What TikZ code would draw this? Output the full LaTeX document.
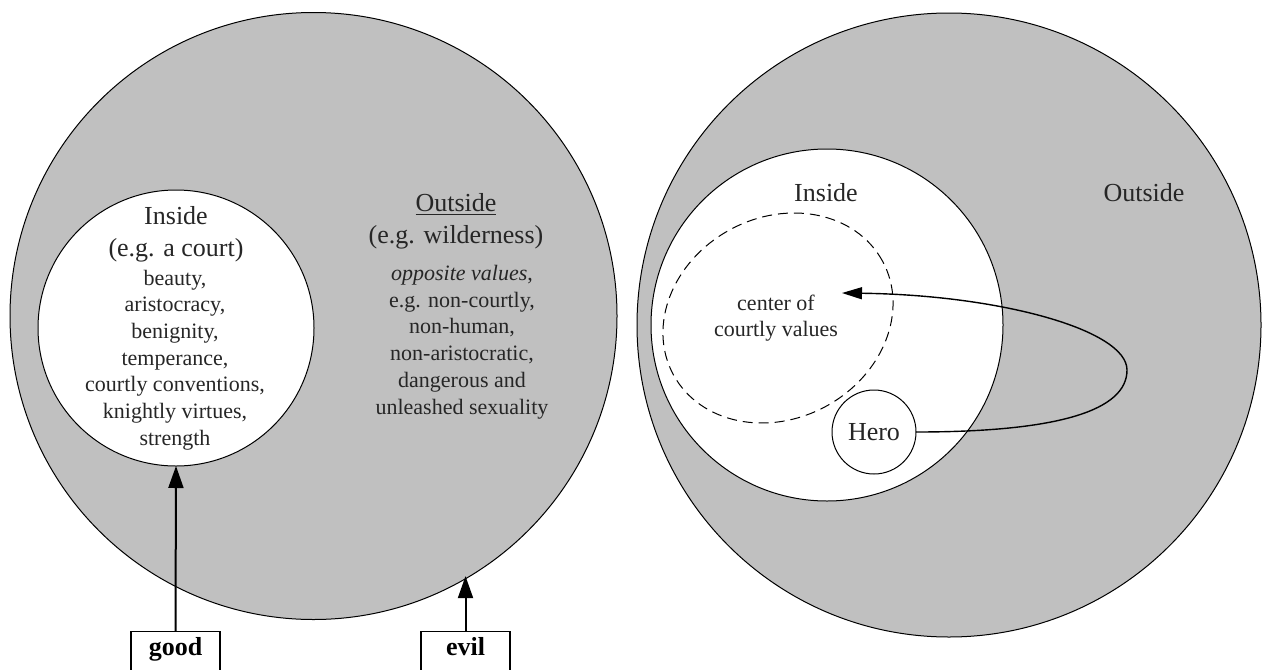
\documentclass[tikz,border=0pt]{standalone}
\usepackage{fontspec}
\setmainfont{Liberation Serif}
\usetikzlibrary{arrows.meta,shapes.geometric}
\definecolor{realm}{RGB}{192,192,192}
\begin{document}
\begin{tikzpicture}[x=0.5pt,y=-0.5pt,
  region/.style={circle, draw=black, line width=0.5pt, inner sep=0pt, outer sep=0pt},
  outerdisk/.style={region, fill=realm},
  innerdisk/.style={region, fill=white},
  hdtext/.style={font=\fontsize{13}{16}\selectfont, align=center, text=black!85},
  bodytext/.style={font=\fontsize{11}{13.35}\selectfont, align=center, text=black!85},
  tagbox/.style={draw, line width=0.6pt, fill=white, anchor=north, minimum width=44.5pt,
    inner ysep=3pt, text height=9pt, text depth=15pt, font=\fontsize{13}{15}\selectfont\bfseries},
  push/.style={-{Triangle[length=11pt,width=7.5pt]}, line width=1pt},
  orbit/.style={-{Triangle[length=10pt,width=6pt]}, line width=0.7pt}
]
\useasboundingbox (0,0) rectangle (1263,669);
\clip (0,0) rectangle (1263,669);

% ---- left diagram: court and wilderness ----
\node[outerdisk, minimum size=303.5pt] (C1) at (313.5,316) {};
\node[innerdisk, minimum size=138pt] (I1) at (176,328) {};
\node[hdtext] (I1head) at (176,234) {Inside\\(e.g. a court)};
\node[bodytext] (I1body) at (175,360) {beauty,\\aristocracy,\\benignity,\\temperance,\\courtly conventions,\\knightly virtues,\\strength};
\node[hdtext] (O1head) at (456,221) {\underline{Outside}\\(e.g. wilderness)};
\node[bodytext] (O1body) at (462,342) {\textit{opposite values},\\e.g. non-courtly,\\non-human,\\non-aristocratic,\\dangerous and\\unleashed sexuality};

\node[tagbox] (good) at (175.5,631) {good};
\node[tagbox] (evil) at (465.5,631) {evil};
\draw[push] (good.north) -- (I1.south);
\draw[push] (evil.north) -- (evil.north |- C1.-59.8);

% ---- right diagram: the hero's path ----
\node[outerdisk, minimum size=312pt] (C2) at (949,325) {};
\node[innerdisk, minimum size=176pt] (I2) at (827,325) {};
\node[ellipse, draw=black, line width=0.5pt, dash pattern=on 5pt off 3pt,
  minimum width=119pt, minimum height=100.5pt, inner sep=0pt, rotate=28.5] (core) at (778,318) {};
\node[hdtext] (I2head) at (826,193) {Inside};
\node[hdtext] (O2head) at (1144,193) {Outside};
\node[bodytext] (coretext) at (776,318) {center of\\courtly values};
\node[innerdisk, minimum size=42pt, font=\fontsize{13}{15}\selectfont, text=black!85] (hero) at (874,432) {Hero};

\coordinate (aim) at (842,293);
\draw[orbit] (hero.east) .. controls (1060,432) and (1127,410) .. (1127,370)
  .. controls (1127,330) and (1000,295) .. (aim);
\end{tikzpicture}
\end{document}
